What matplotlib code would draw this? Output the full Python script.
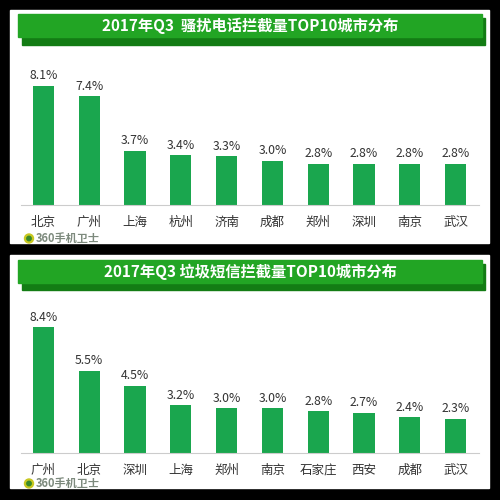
import matplotlib
matplotlib.use('Agg')
import matplotlib.pyplot as plt
from matplotlib.patches import Rectangle, Circle

plt.rcParams['font.family'] = ['Noto Sans CJK SC', 'DejaVu Sans']

# data
call_title = "2017年Q3  骚扰电话拦截量TOP10城市分布"
call_cities = ["北京", "广州", "上海", "杭州", "济南", "成都", "郑州", "深圳", "南京", "武汉"]
call_values = [8.1, 7.4, 3.7, 3.4, 3.3, 3.0, 2.8, 2.8, 2.8, 2.8]

sms_title = "2017年Q3 垃圾短信拦截量TOP10城市分布"
sms_cities = ["广州", "北京", "深圳", "上海", "郑州", "南京", "石家庄", "西安", "成都", "武汉"]
sms_values = [8.4, 5.5, 4.5, 3.2, 3.0, 3.0, 2.8, 2.7, 2.4, 2.3]

logo_text = "360手机卫士"

bar_color = "#1aa64e"
banner_color = "#22a524"
shadow_color = "#137c14"
W = H = 500

fig = plt.figure(figsize=(5, 5), dpi=100, facecolor="black")

# full-figure axes in pixel units for the panels and banners
bg = fig.add_axes([0, 0, 1, 1])
bg.set_xlim(0, W)
bg.set_ylim(H, 0)
bg.axis("off")
bg.set_facecolor("black")


def draw_panel(top, bottom, title, banner_top, banner_bottom, shadow_bottom, logo_y):
    bg.add_patch(Rectangle((10, top), 479, bottom - top, color="white", zorder=1))
    bg.add_patch(Rectangle((22, banner_top + 4), 463, shadow_bottom - banner_top - 4,
                           color=shadow_color, zorder=2))
    bg.add_patch(Rectangle((18, banner_top), 464, banner_bottom - banner_top,
                           color=banner_color, zorder=3))
    bg.text(250, (banner_top + banner_bottom) / 2, title, color="white", fontsize=11,
            fontweight="bold", ha="center", va="center", zorder=4)
    # little logo
    bg.add_patch(Circle((29, logo_y), 4.5, color="#c8c820", zorder=4))
    bg.add_patch(Circle((29, logo_y), 2.2, color="#3a8a2a", zorder=5))
    bg.text(36, logo_y, logo_text, color="#7d8a7d", fontsize=8, fontweight="bold",
            ha="left", va="center", zorder=4)


def draw_bars(cities, values, ax_bottom_px, ax_height_px):
    ax = fig.add_axes([20.5 / W, (H - ax_bottom_px) / H, 458 / W, ax_height_px / H])
    ax.patch.set_alpha(0)
    x = range(len(values))
    bars = ax.bar(x, values, width=0.46, color=bar_color)
    for b, v in zip(bars, values):
        ax.annotate(f"{v:.1f}%", (b.get_x() + b.get_width() / 2, v), xytext=(0, 2.5),
                    textcoords="offset points", ha="center", va="bottom",
                    fontsize=8.8, color="#333333")
    ax.set_xlim(-0.5, len(values) - 0.5)
    ax.set_ylim(0, 10)
    ax.set_xticks(list(x))
    ax.set_xticklabels(cities, fontsize=9, color="#333333")
    ax.tick_params(axis="x", length=0, pad=8)
    ax.set_yticks([])
    for s in ["top", "right", "left"]:
        ax.spines[s].set_visible(False)
    ax.spines["bottom"].set_color("#cccccc")
    ax.spines["bottom"].set_linewidth(0.8)
    return ax


draw_panel(10, 243, call_title, 14, 37, 45, 238.5)
draw_bars(call_cities, call_values, 205, 147)

draw_panel(255, 488, sms_title, 260, 283, 290, 483.5)
draw_bars(sms_cities, sms_values, 453, 150)

plt.savefig("out.png", dpi=100, facecolor="black")
